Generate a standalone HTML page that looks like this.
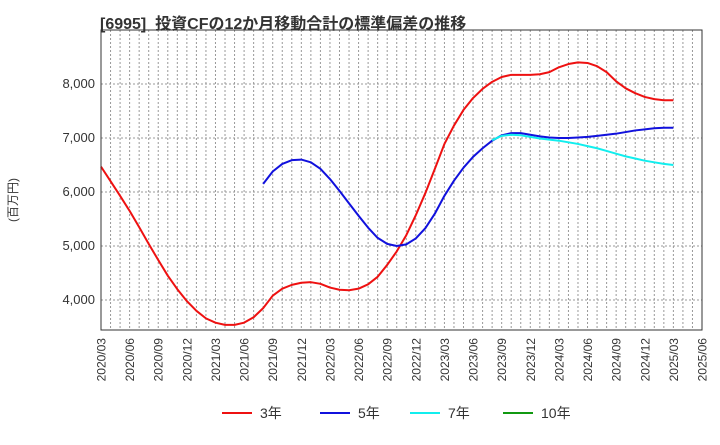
<!DOCTYPE html>
<html><head><meta charset="utf-8"><style>
body{margin:0;background:#fff;font-family:"Liberation Sans","Noto Sans CJK JP",sans-serif}
</style></head><body>
<svg id="c" width="720" height="440" xmlns="http://www.w3.org/2000/svg" style="font-family:'Liberation Sans','Noto Sans CJK JP',sans-serif">
<text x="100" y="29" font-size="16" font-weight="bold" fill="#333">[6995]&#160; 投資CFの12か月移動合計の標準偏差の推移</text>
<text transform="translate(17,200) rotate(-90)" font-size="12" fill="#333" text-anchor="middle">(百万円)</text>
<g id="grid"></g><g id="series"></g><g id="axes"></g>
<g id="legend"></g>
</svg>
<script>
const yTicks=[4000,5000,6000,7000,8000];
const xLabels=["2020/03","2020/06","2020/09","2020/12","2021/03","2021/06","2021/09","2021/12","2022/03","2022/06","2022/09","2022/12","2023/03","2023/06","2023/09","2023/12","2024/03","2024/06","2024/09","2024/12","2025/03","2025/06"];
const s3Start=0;
const s3=[6470,6200,5930,5650,5350,5040,4740,4450,4200,3980,3800,3660,3580,3540,3540,3580,3680,3850,4080,4210,4280,4320,4330,4300,4230,4190,4180,4210,4290,4430,4650,4900,5200,5570,5980,6430,6890,7230,7520,7740,7910,8040,8130,8170,8170,8170,8180,8220,8310,8370,8400,8390,8330,8220,8050,7920,7830,7760,7720,7700,7700];
const s5Start=17;
const s5=[6150,6380,6520,6590,6600,6550,6430,6240,6020,5790,5560,5340,5150,5040,5000,5030,5140,5330,5600,5930,6210,6450,6650,6810,6950,7050,7090,7090,7060,7030,7010,7000,7000,7010,7020,7040,7060,7080,7110,7140,7160,7180,7190,7190];
const s7Start=41;
const s7=[6960,7040,7060,7050,7020,6990,6970,6950,6920,6890,6850,6810,6760,6710,6660,6620,6580,6550,6520,6500];
const legendNames=["3年","5年","7年","10年"];
const colors=["#ee1111","#1111dd","#11eeee","#119911"];
const L=101,R=702,T=30,B=330,NM=63;
const X=m=>L+(R-L)*m/NM;
const Y=v=>300-(v-4000)*0.054;
const NS="http://www.w3.org/2000/svg";
function mk(p,t,a){const e=document.createElementNS(NS,t);for(const k in a)e.setAttribute(k,a[k]);p.appendChild(e);return e;}
const g=document.getElementById('grid'),ax=document.getElementById('axes'),sg=document.getElementById('series'),lg=document.getElementById('legend');
for(let m=1;m<NM;m++){const l=mk(g,'line',{x1:X(m),x2:X(m),y1:T,y2:B,stroke:'#999','stroke-width':1,'stroke-dasharray':'2,2'});

}
yTicks.forEach(v=>{const l=mk(g,'line',{x1:L,x2:R,y1:Y(v),y2:Y(v),stroke:'#999','stroke-width':1,'stroke-dasharray':'2,2'});


const t=mk(ax,'text',{x:L-6,y:Y(v)+4,'font-size':13,'text-anchor':'end',fill:'#333'});t.textContent=v.toLocaleString('en-US');

});
xLabels.forEach((s,i)=>{const x=X(i*3);const t=mk(ax,'text',{transform:`translate(${x+4.5},${B+8}) rotate(-90)`,'font-size':12,'text-anchor':'end',fill:'#333'});t.textContent=s;

});
const fr=mk(ax,'rect',{x:L,y:T,width:R-L,height:B-T,fill:'none',stroke:'#333','stroke-width':1});


[[s3,s3Start,0],[s5,s5Start,1],[s7,s7Start,2]].forEach(([d,st,ci])=>{
const p=mk(sg,'polyline',{points:d.map((v,i)=>X(st+i)+','+Y(v)).join(' '),fill:'none',stroke:colors[ci],'stroke-width':2,'stroke-linejoin':'round'});

});
const lx=[222,320,410,503];
legendNames.forEach((n,i)=>{
const gg=mk(lg,'g',{});


mk(gg,'line',{x1:lx[i],x2:lx[i]+30,y1:413,y2:413,stroke:colors[i],'stroke-width':2});
const t=mk(gg,'text',{x:lx[i]+38,y:418,'font-size':14,fill:'#333'});t.textContent=n;});
</script>
</body></html>
